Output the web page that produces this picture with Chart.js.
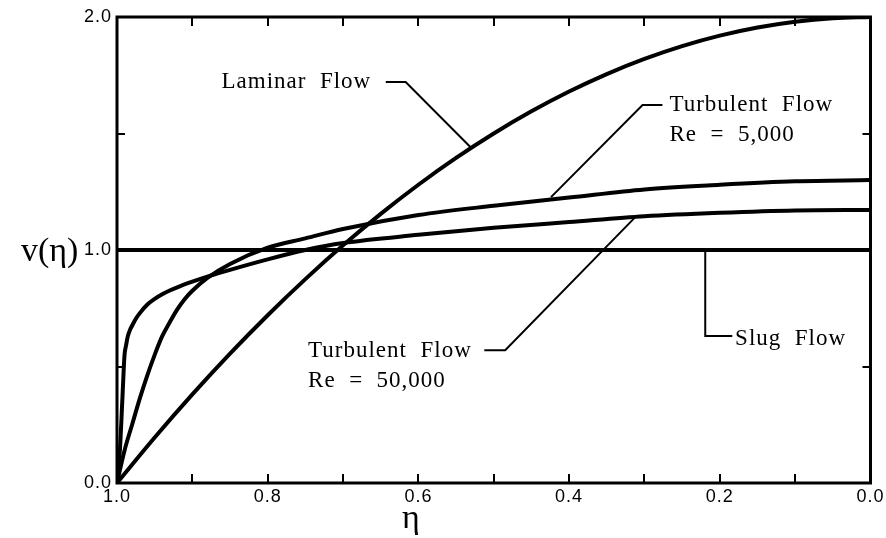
<!DOCTYPE html>
<html>
<head>
<meta charset="utf-8">
<script src="https://cdn.jsdelivr.net/npm/chart.js@4.4.0/dist/chart.umd.min.js"></script>
<style>
  html, body { margin: 0; padding: 0; background: #ffffff; }
  #wrap { width: 886px; height: 538px; }
</style>
</head>
<body>
<div id="wrap"><canvas id="chart" width="886" height="538"></canvas></div>
<script>
// Dimensionless radius eta (1 = pipe wall, 0 = centreline) and velocity v(eta)
const laminarEta = [1.0, 0.95, 0.9, 0.85, 0.8, 0.75, 0.7, 0.65, 0.6, 0.55, 0.5, 0.45, 0.4, 0.35, 0.3, 0.25, 0.2, 0.15, 0.1, 0.05, 0.0];
const laminarV   = [0, 0.195, 0.38, 0.555, 0.72, 0.875, 1.02, 1.155, 1.28, 1.395, 1.5, 1.595, 1.68, 1.755, 1.82, 1.875, 1.92, 1.955, 1.98, 1.995, 2.0];

const turb5kEta = [1.0, 0.99, 0.98, 0.97, 0.96, 0.95, 0.94, 0.93, 0.92, 0.91, 0.90, 0.88, 0.85, 0.80, 0.75, 0.70, 0.60, 0.50, 0.40, 0.30, 0.20, 0.10, 0.0];
const turb5kV   = [0, 0.14, 0.25, 0.36, 0.46, 0.55, 0.63, 0.69, 0.745, 0.79, 0.825, 0.88, 0.94, 1.01, 1.05, 1.09, 1.15, 1.19, 1.225, 1.26, 1.28, 1.295, 1.30];

const turb50kEta = [1.0, 0.996, 0.993, 0.99, 0.988, 0.986, 0.983, 0.98, 0.975, 0.97, 0.96, 0.95, 0.94, 0.93, 0.92, 0.90, 0.876, 0.85, 0.80, 0.75, 0.70, 0.60, 0.50, 0.40, 0.30, 0.20, 0.10, 0.0];
const turb50kV   = [0, 0.15, 0.35, 0.55, 0.59, 0.625, 0.655, 0.675, 0.705, 0.728, 0.765, 0.79, 0.81, 0.826, 0.84, 0.864, 0.89, 0.915, 0.96, 1.0, 1.03, 1.065, 1.095, 1.12, 1.145, 1.16, 1.17, 1.172];

const slugEta = [1.0, 0.0];
const slugV   = [1.0, 1.0];

// Axis tick labels
const xTickLabels = ['1.0', '0.8', '0.6', '0.4', '0.2', '0.0'];
const yTickLabels = ['0.0', '1.0', '2.0'];

// Curve labels: text lines with anchor (eta, v) and leader polylines in data units
const labelTexts = [
  ['Laminar  Flow'],
  ['Turbulent  Flow', 'Re  =  5,000'],
  ['Turbulent  Flow', 'Re  =  50,000'],
  ['Slug  Flow']
];
const labelAnchors = [
  [[0.8613, 1.695]],
  [[0.2668, 1.595], [0.2668, 1.468]],
  [[0.7464, 0.541], [0.7464, 0.410]],
  [[0.1797, 0.592]]
];
const leaderPaths = [
  [[0.6433, 1.721], [0.6169, 1.721], [0.5297, 1.438]],
  [[0.2761, 1.622], [0.3025, 1.622], [0.4240, 1.227]],
  [[0.5125, 0.570], [0.4848, 0.570], [0.3118, 1.142]],
  [[0.2193, 1.0], [0.2193, 0.631], [0.1834, 0.631]]
];

const toPoints = (xs, ys) => xs.map((x, i) => ({ x: x, y: ys[i] }));

const curve = (data) => ({
  data: data,
  borderColor: '#000',
  borderWidth: 4,
  pointRadius: 0,
  fill: false,
  cubicInterpolationMode: 'monotone',
  borderCapStyle: 'round',
  borderJoinStyle: 'round'
});

const tickFont = { family: 'Arial, "Liberation Sans", Helvetica, sans-serif', size: 18 };

// Tick labels in the original typeset look are slightly letter-spaced
const spacedTicks = {
  id: 'spacedTicks',
  beforeDraw(chart) { chart.ctx.letterSpacing = '1px'; },
  beforeDatasetsDraw(chart) { chart.ctx.letterSpacing = '0px'; }
};

const frameAndNotes = {
  id: 'frameAndNotes',
  afterDatasetsDraw(chart) {
    const { ctx, chartArea: a, scales } = chart;
    const xs = scales.x, ys = scales.y;
    ctx.save();
    ctx.strokeStyle = '#000';
    ctx.fillStyle = '#000';

    // inward tick marks on all four sides
    ctx.lineWidth = 2;
    ctx.beginPath();
    xs.ticks.forEach(t => {
      const px = Math.round(xs.getPixelForValue(t.value));
      if (px <= a.left + 2 || px >= a.right - 2) return;
      ctx.moveTo(px, a.bottom); ctx.lineTo(px, a.bottom - 9);
      ctx.moveTo(px, a.top); ctx.lineTo(px, a.top + 9);
    });
    ys.ticks.forEach(t => {
      const py = Math.round(ys.getPixelForValue(t.value));
      if (py <= a.top + 2 || py >= a.bottom - 2) return;
      ctx.moveTo(a.left, py); ctx.lineTo(a.left + 8, py);
      ctx.moveTo(a.right, py); ctx.lineTo(a.right - 8, py);
    });
    ctx.stroke();

    // plot frame
    ctx.lineWidth = 3;
    ctx.strokeRect(a.left, a.top, a.right - a.left, a.bottom - a.top);

    // leader lines
    ctx.lineWidth = 2;
    ctx.lineJoin = 'miter';
    leaderPaths.forEach(path => {
      ctx.beginPath();
      path.forEach(([e, v], i) => {
        const px = xs.getPixelForValue(e), py = ys.getPixelForValue(v);
        if (i === 0) ctx.moveTo(px, py); else ctx.lineTo(px, py);
      });
      ctx.stroke();
    });

    // curve labels
    ctx.font = '23px "Liberation Serif", "Times New Roman", serif';
    ctx.textAlign = 'left';
    ctx.textBaseline = 'alphabetic';
    ctx.letterSpacing = '1px';
    labelTexts.forEach((lines, i) => {
      lines.forEach((txt, j) => {
        const [e, v] = labelAnchors[i][j];
        ctx.fillText(txt, xs.getPixelForValue(e), ys.getPixelForValue(v));
      });
    });

    // axis titles
    ctx.letterSpacing = '0px';
    ctx.font = '34px "Liberation Serif", "Times New Roman", serif';
    ctx.textAlign = 'left';
    ctx.fillText('v(\u03B7)', 21, a.top + (a.bottom - a.top) / 2 + 11);
    ctx.textAlign = 'center';
    ctx.fillText('\u03B7', a.left + (a.right - a.left) * 0.39, 528);
    ctx.restore();
  }
};

new Chart(document.getElementById('chart'), {
  type: 'line',
  data: {
    datasets: [
      curve(toPoints(laminarEta, laminarV)),
      curve(toPoints(turb5kEta, turb5kV)),
      curve(toPoints(turb50kEta, turb50kV)),
      curve(toPoints(slugEta, slugV))
    ]
  },
  options: {
    responsive: false,
    animation: false,
    devicePixelRatio: 1,
    layout: { padding: { top: 17, right: 12, left: 0, bottom: 0 } },
    plugins: { legend: { display: false }, tooltip: { enabled: false }, title: { display: false } },
    scales: {
      x: {
        type: 'linear',
        reverse: true,
        min: 0,
        max: 1,
        grid: { display: false, drawTicks: false },
        border: { display: false },
        ticks: {
          stepSize: 0.1,
          maxRotation: 0,
          autoSkip: false,
          padding: 3,
          color: '#000',
          font: tickFont,
          callback: (val) => {
            const k = Math.round(val * 10);
            return k % 2 === 0 ? xTickLabels[5 - k / 2] : '';
          }
        },
        afterFit: (s) => { s.height = 55; }
      },
      y: {
        type: 'linear',
        min: 0,
        max: 2,
        grid: { display: false, drawTicks: false },
        border: { display: false },
        ticks: {
          stepSize: 0.5,
          autoSkip: false,
          padding: 5,
          color: '#000',
          font: tickFont,
          callback: (val) => {
            const k = Math.round(val * 2);
            return k % 2 === 0 ? yTickLabels[k / 2] : '';
          }
        },
        afterFit: (s) => { s.width = 117; }
      }
    }
  },
  plugins: [spacedTicks, frameAndNotes]
});
</script>
</body>
</html>
